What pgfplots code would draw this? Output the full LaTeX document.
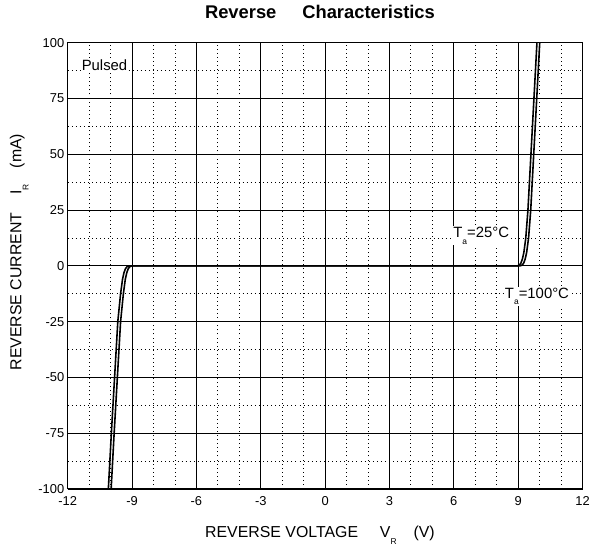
\documentclass[border=0pt]{standalone}
\usepackage{fontspec}
\setmainfont{Liberation Sans}
\usepackage{pgfplots}
\pgfplotsset{compat=1.18}

\newcommand{\sub}[1]{\raisebox{-0.45em}{\fontsize{8.5}{9}\selectfont #1}}

\begin{document}
\begin{tikzpicture}
\begin{axis}[
    scale only axis,
    width=517bp, height=448bp,
    xmin=-12, xmax=12, ymin=-100, ymax=100,
    xtick={-12,-9,...,12},
    ytick={-100,-75,...,100},
    minor x tick num=2,
    minor y tick num=1,
    grid=both,
    major grid style={black, line width=0.8pt},
    minor grid style={black, line width=0.9pt, dash pattern=on 0.9pt off 3.2pt},
    axis line style={black, line width=0.9pt},
    major tick length=0pt, minor tick length=0pt,
    ticklabel style={font=\fontsize{13}{15}\selectfont},
    xticklabel style={yshift=-4bp},
    /pgf/number format/assume math mode=true,
    title={\fontsize{18.5}{22}\selectfont\bfseries Reverse\hspace{26bp}Characteristics},
    title style={at={(axis description cs:0.49,1.041)}, anchor=base},
    xlabel={REVERSE VOLTAGE\hspace{22bp}V\sub{R}\hspace{17bp}(V)},
    xlabel style={font=\fontsize{16}{19}\selectfont, at={(axis description cs:0.49,-0.109)}, anchor=base},
    ylabel={REVERSE CURRENT\hspace{18bp}I\sub{R}\hspace{16bp}(mA)},
    ylabel style={font=\fontsize{16}{19}\selectfont, at={(axis description cs:-0.090,0.531)}, anchor=base},
  ]

  % Ta = 25 C (inner)
  \addplot[black, line width=1.6pt] coordinates {
    (-9.975,-100) (-9.835,-75) (-9.685,-50) (-9.535,-25) (-9.405,-12.5)
    (-9.315,-6) (-9.245,-3) (-9.175,-1.2) (-9.095,-0.3) (-9.015,0)
    (0,0)
    (8.955,0) (9.045,0.3) (9.125,1.2) (9.195,3) (9.265,6) (9.355,12.5)
    (9.455,25) (9.595,50) (9.735,75) (9.875,100)
  };
  % Ta = 100 C (outer)
  \addplot[black, line width=1.6pt] coordinates {
    (-10.105,-100) (-9.965,-75) (-9.815,-50) (-9.665,-25) (-9.535,-12.5)
    (-9.445,-6) (-9.375,-3) (-9.305,-1.2) (-9.225,-0.3) (-9.145,0)
    (0,0)
    (9.085,0) (9.175,0.3) (9.255,1.2) (9.325,3) (9.395,6) (9.485,12.5)
    (9.585,25) (9.725,50) (9.865,75) (10.005,100)
  };

  \node[anchor=base west, fill=white, inner sep=1pt, font=\fontsize{15}{17}\selectfont]
    at (axis cs:-11.4,87.5) {Pulsed};
  \node[anchor=base west, fill=white, inner sep=1pt, font=\fontsize{15}{17}\selectfont]
    at (axis cs:5.92,12.8) {T\sub{a}=25°C};
  \node[anchor=base west, fill=white, inner sep=1pt, font=\fontsize{15}{17}\selectfont]
    at (axis cs:8.33,-14.5) {T\sub{a}=100°C};
\end{axis}
\path[use as bounding box]
  ([xshift=-68bp,yshift=-60bp]current axis.south west)
  rectangle ([xshift=8bp,yshift=43bp]current axis.north east);
\end{tikzpicture}
\end{document}
